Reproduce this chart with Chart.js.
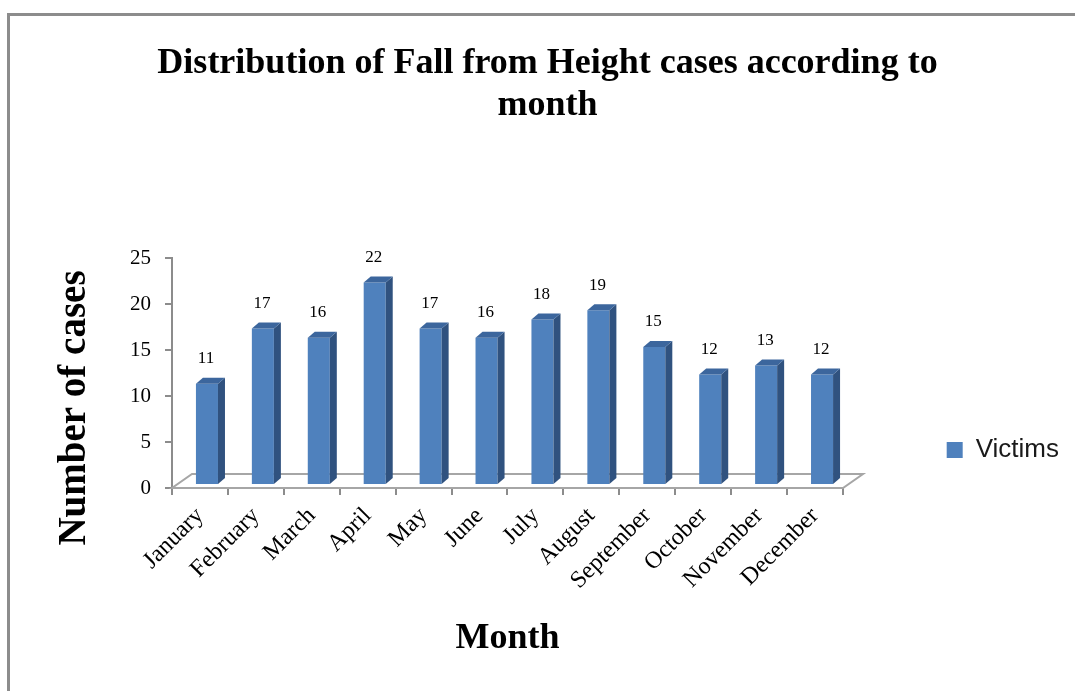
<!DOCTYPE html>
<html>
<head>
<meta charset="utf-8">
<script src="https://cdn.jsdelivr.net/npm/chart.js@4.4.1/dist/chart.umd.min.js"></script>
<style>
  html, body { margin: 0; padding: 0; background: #ffffff; }
  #wrap { position: relative; width: 1075px; height: 691px; }
  canvas { display: block; }
</style>
</head>
<body>
<div id="wrap"><canvas id="c" width="1075" height="691"></canvas></div>
<script>
// ---- data ----
const categories = ['January', 'February', 'March', 'April', 'May', 'June', 'July', 'August', 'September', 'October', 'November', 'December'];
const victims = [11, 17, 16, 22, 17, 16, 18, 19, 15, 12, 13, 12];
const seriesName = 'Victims';
const yAxisMin = 0;
const yAxisMax = 25;
const yAxisStep = 5;
const titleLines = ['Distribution of Fall from Height cases according to', 'month'];
const xAxisTitle = 'Month';
const yAxisTitle = 'Number of cases';

// ---- style ----
const SERIF = '"Liberation Serif", "Times New Roman", serif';
const SANS = '"Liberation Sans", Arial, sans-serif';
const AXIS_GREY = '#8c8c8c';
const FRONT = '#4F81BD';
const SIDE = '#30527F';
const TOP = '#3C669D';
const DEPTH_X = 7, DEPTH_Y = 6;      // bar depth
const SHIFT_X = 7, SHIFT_Y = 3;      // bar front offset into the floor
const FLOOR_X = 20, FLOOR_Y = 14;    // floor depth

const LEGEND_FONT = 26, LEGEND_BOX = 16, LEGEND_PAD = 25;
const PAD_L = 26, PAD_R = 6;
const PLOT_LEFT = 172, PLOT_RIGHT = 843, PLOT_BOTTOM = 488;

// width of the legend box, to place the plot's right edge
const mctx = document.createElement('canvas').getContext('2d');
mctx.font = LEGEND_FONT + 'px ' + SANS;
const legendTextW = mctx.measureText(seriesName).width;
const legendW = LEGEND_PAD + LEGEND_BOX + LEGEND_FONT / 2 + legendTextW + 10;
const gapRight = (1075 - PAD_R - legendW) - PLOT_RIGHT;

const threeD = {
  id: 'threeD',
  beforeDatasetsDraw(chart) {
    const {ctx, chartArea} = chart;
    const y0 = chart.scales.y.getPixelForValue(0);
    const xl = chartArea.left, xr = chartArea.right;
    ctx.save();
    ctx.beginPath();
    ctx.moveTo(xl, y0);
    ctx.lineTo(xr, y0);
    ctx.lineTo(xr + FLOOR_X, y0 - FLOOR_Y);
    ctx.lineTo(xl + FLOOR_X, y0 - FLOOR_Y);
    ctx.closePath();
    ctx.fillStyle = '#ffffff';
    ctx.fill();
    ctx.strokeStyle = '#a6a6a6';
    ctx.lineWidth = 2;
    ctx.stroke();
    ctx.restore();
    ctx.save();
    ctx.translate(SHIFT_X, -SHIFT_Y);
  },
  afterDatasetsDraw(chart) {
    const {ctx} = chart;
    ctx.restore();
    const meta = chart.getDatasetMeta(0);
    const data = chart.data.datasets[0].data;
    ctx.save();
    meta.data.forEach((el, i) => {
      const p = el.getProps(['x', 'y', 'base', 'width'], true);
      const xl = p.x - p.width / 2 + SHIFT_X;
      const xr = p.x + p.width / 2 + SHIFT_X;
      const yT = p.y - SHIFT_Y;
      const yB = p.base - SHIFT_Y;
      // side face
      ctx.beginPath();
      ctx.moveTo(xr, yT);
      ctx.lineTo(xr + DEPTH_X, yT - DEPTH_Y);
      ctx.lineTo(xr + DEPTH_X, yB - DEPTH_Y);
      ctx.lineTo(xr, yB);
      ctx.closePath();
      ctx.fillStyle = SIDE;
      ctx.fill();
      // top face
      ctx.beginPath();
      ctx.moveTo(xl, yT);
      ctx.lineTo(xl + DEPTH_X, yT - DEPTH_Y);
      ctx.lineTo(xr + DEPTH_X, yT - DEPTH_Y);
      ctx.lineTo(xr, yT);
      ctx.closePath();
      ctx.fillStyle = TOP;
      ctx.fill();
      // value label
      ctx.fillStyle = '#000000';
      ctx.font = '17px ' + SERIF;
      ctx.textAlign = 'center';
      ctx.textBaseline = 'middle';
      ctx.fillText(String(data[i]), p.x + SHIFT_X - 1, yT - 25);
    });
    ctx.restore();
  },
  afterDraw(chart) {
    const {ctx} = chart;
    ctx.save();
    // y axis title
    ctx.translate(75, 408);
    ctx.rotate(-Math.PI / 2);
    ctx.fillStyle = '#000000';
    ctx.font = 'bold 39px ' + SERIF;
    ctx.textAlign = 'center';
    ctx.textBaseline = 'middle';
    ctx.fillText(yAxisTitle, 0, 0);
    ctx.restore();
    // frame
    ctx.save();
    ctx.fillStyle = AXIS_GREY;
    ctx.fillRect(7, 13, 1068, 3);
    ctx.fillRect(7, 13, 3, 678);
    ctx.restore();
  }
};

new Chart(document.getElementById('c'), {
  type: 'bar',
  data: {
    labels: categories,
    datasets: [{
      label: seriesName,
      data: victims,
      backgroundColor: FRONT,
      borderWidth: 0,
      categoryPercentage: 1.0,
      barPercentage: 0.394
    }]
  },
  options: {
    responsive: false,
    animation: false,
    devicePixelRatio: 1,
    layout: { padding: { left: PAD_L, right: PAD_R, top: 0, bottom: 0 } },
    plugins: {
      tooltip: { enabled: false },
      title: {
        display: true,
        text: titleLines,
        color: '#000000',
        font: { family: SERIF, size: 36, weight: 'bold', lineHeight: 42 / 36 },
        padding: { top: 43, bottom: 131 }
      },
      legend: {
        display: true,
        position: 'right',
        align: 'end',
        fullSize: false,
        labels: {
          boxWidth: LEGEND_BOX,
          boxHeight: LEGEND_BOX,
          padding: LEGEND_PAD,
          color: '#1a1a1a',
          font: { family: SANS, size: LEGEND_FONT }
        }
      }
    },
    scales: {
      x: {
        offset: true,
        grid: { display: true, drawOnChartArea: false, drawTicks: true, tickLength: 7, color: AXIS_GREY, lineWidth: 2, offset: true },
        border: { display: true, color: AXIS_GREY, width: 2 },
        ticks: {
          autoSkip: false,
          minRotation: 45,
          maxRotation: 45,
          padding: 7,
          color: '#000000',
          font: { family: SERIF, size: 24 }
        },
        title: {
          display: true,
          text: xAxisTitle,
          color: '#000000',
          font: { family: SERIF, size: 36, weight: 'bold', lineHeight: 1.2 },
          padding: { top: 0, bottom: 31 }
        },
        afterFit(s) { s.height = 691 - PLOT_BOTTOM; }
      },
      y: {
        min: yAxisMin,
        max: yAxisMax,
        grid: { display: true, drawOnChartArea: false, drawTicks: true, tickLength: 7, color: AXIS_GREY, lineWidth: 2 },
        border: { display: true, color: AXIS_GREY, width: 2 },
        ticks: {
          stepSize: yAxisStep,
          padding: 14,
          color: '#000000',
          font: { family: SERIF, size: 21 }
        },
        title: { display: false },
        afterFit(s) { s.width = PLOT_LEFT - PAD_L; }
      },
      gap: {
        type: 'linear',
        position: 'right',
        display: true,
        grid: { display: false },
        border: { display: false },
        ticks: { display: false },
        afterFit(s) { s.width = gapRight; }
      }
    }
  },
  plugins: [threeD]
});
</script>
</body>
</html>
